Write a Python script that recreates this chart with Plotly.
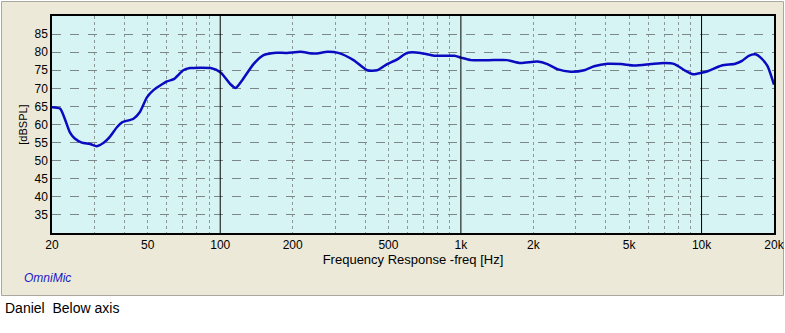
import plotly.graph_objects as go

# Frequency response data (Hz, dBSPL)
freq_hz = [20, 21.6, 22.6, 23.7, 24.8, 26.6, 28.8, 30.7, 32.9, 34.7, 37.3, 39.1,
           43.6, 46.3, 49.6, 52.8, 60.1, 64.4, 70.2, 75, 91.2, 100.4, 110, 116,
           123, 137.5, 151.4, 166.6, 189.5, 215.7, 245.5, 279.4, 309, 358, 408,
           449, 494, 544, 598, 680, 774, 940, 1000, 1103, 1371, 1556, 1769, 2079,
           2287, 2515, 2859, 3253, 3577, 4070, 4630, 5267, 6164, 7013, 7721, 8496,
           9209, 9996, 10665, 12134, 13804, 14727, 15709, 16760, 17600, 18780, 20000]
spl_db = [64.8, 64.4, 61.6, 57.9, 56.2, 55.0, 54.6, 54.0, 55.0, 56.5, 59.3, 60.6,
          61.6, 63.4, 67.5, 69.5, 71.9, 72.6, 75.0, 75.6, 75.6, 74.4, 71.2, 70.1,
          72.1, 76.7, 79.2, 79.8, 79.8, 80.1, 79.6, 80.1, 79.8, 77.8, 75.0,
          75.0, 76.7, 78.0, 79.8, 79.8, 79.0, 79.0, 78.5, 77.8, 77.8, 77.8, 77.0, 77.4,
          76.7, 75.3, 74.6, 75.0, 76.1, 76.8, 76.7, 76.3, 76.7, 77.0, 76.7, 75.0,
          73.9, 74.3, 74.8, 76.3, 76.8, 77.6, 79.0, 79.4, 78.5, 76.2, 71.0]

x_tickvals = [20, 50, 100, 200, 500, 1000, 2000, 5000, 10000, 20000]
x_ticktext = ["20", "50", "100", "200", "500", "1k", "2k", "5k", "10k", "20k"]
x_minor_grid = [30, 40, 50, 60, 70, 80, 90,
                200, 300, 400, 500, 600, 700, 800, 900,
                2000, 3000, 4000, 5000, 6000, 7000, 8000, 9000]
decade_lines = [100, 1000, 10000]
y_tickvals = [35, 40, 45, 50, 55, 60, 65, 70, 75, 80, 85]

FONT = "Liberation Sans, Arial, sans-serif"
PL, PR, PT, PB = 52, 774, 16, 233
W, H = 785, 333

def px_x(px):
    return (px - PL) / (PR - PL)

def px_y(py):
    return (PB - py) / (PB - PT)

fig = go.Figure()
fig.add_trace(go.Scatter(
    x=freq_hz, y=spl_db, mode="lines",
    line=dict(color="#0A0AC0", width=2.5, shape="spline", smoothing=0.6),
    hoverinfo="skip", showlegend=False))

shapes = [
    # beige panel
    dict(type="rect", xref="paper", yref="paper", layer="below",
         x0=px_x(1.5), x1=px_x(783.5), y0=px_y(295.5), y1=px_y(1.5),
         fillcolor="#ECE9D8", line=dict(color="#A8A8A0", width=1)),
    # plot area
    dict(type="rect", xref="paper", yref="paper", layer="below",
         x0=0, x1=1, y0=0, y1=1, fillcolor="#D6F4F4", line=dict(width=0)),
]
for d in decade_lines:
    shapes.append(dict(type="line", xref="x", yref="paper", layer="above",
                       x0=d, x1=d, y0=0, y1=1, line=dict(color="black", width=1)))

fig.update_layout(
    width=W, height=H,
    margin=dict(l=PL, r=W - PR, t=PT, b=H - PB, autoexpand=False),
    paper_bgcolor="white", plot_bgcolor="rgba(0,0,0,0)",
    font=dict(family=FONT, size=12, color="black"),
    shapes=shapes,
    xaxis=dict(type="log", range=[1.30103, 4.30103], automargin=False,
               tickvals=x_tickvals, ticktext=x_ticktext, ticks="",
               showgrid=False, zeroline=False,
               showline=True, mirror=True, linecolor="black", linewidth=1.5,
               tickfont=dict(size=12, family=FONT),
               minor=dict(tickvals=x_minor_grid, showgrid=True, ticks="",
                          gridcolor="#8C9898", griddash="dot", gridwidth=1),
               title=dict(text="Frequency Response -freq [Hz]", standoff=2,
                          font=dict(size=13, family=FONT))),
    yaxis=dict(range=[30, 90], tickvals=y_tickvals, ticks="", automargin=False,
               showgrid=True, gridcolor="#7C8888", griddash="dash", gridwidth=1,
               zeroline=False,
               showline=True, mirror=True, linecolor="black", linewidth=1.5,
               tickfont=dict(size=12, family=FONT),
               title=dict(text="[dBSPL]", standoff=5,
                          font=dict(size=11, family=FONT))),
    annotations=[
        dict(text="<i>OmniMic</i>", xref="paper", yref="paper",
             x=px_x(22), y=px_y(278), xanchor="left", yanchor="middle",
             showarrow=False, font=dict(size=12, color="#1A1AC8", family=FONT)),
        dict(text="Daniel  Below axis", xref="paper", yref="paper",
             x=px_x(3), y=px_y(308), xanchor="left", yanchor="middle",
             showarrow=False, font=dict(size=14, color="black", family=FONT)),
    ],
)

fig.write_html("out.html", config={"displayModeBar": False},
               post_script="document.body.style.margin='0px';document.body.style.overflow='hidden';")
